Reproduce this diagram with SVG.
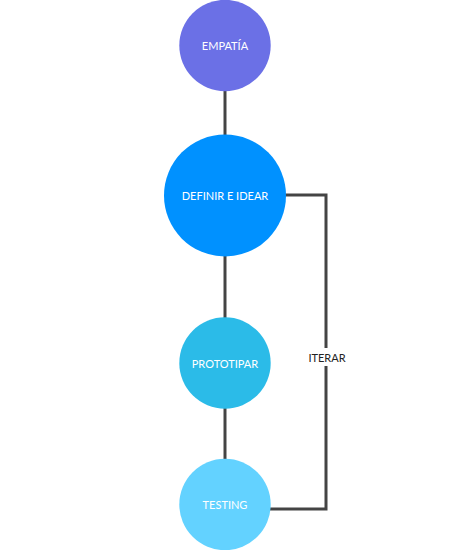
<svg xmlns="http://www.w3.org/2000/svg" width="450" height="550" viewBox="0 0 450 550">
<style>
.lbl{font-family:Lato,"Open Sans","DejaVu Sans",sans-serif;font-size:11px;fill:#ffffff;text-anchor:middle;dominant-baseline:central}
.conn{stroke:#444444;stroke-width:3;fill:none}
.itl{font-family:Lato,"Open Sans","DejaVu Sans",sans-serif;font-size:11px;fill:#222222;text-anchor:middle;dominant-baseline:central}
</style>
<rect width="450" height="550" fill="#ffffff"/>
<g id="connectors">
<line class="conn" x1="225" y1="80" x2="225" y2="150"/>
<line class="conn" x1="225" y1="240" x2="225" y2="330"/>
<line class="conn" x1="225" y1="400" x2="225" y2="470"/>
<polyline class="conn" points="280,195 326,195 326,509 265,509"/>
<rect x="306" y="348" width="42" height="18" fill="#ffffff"/>
<text class="itl" x="327" y="357">ITERAR</text>
</g>
<g id="empatia">
<circle cx="225" cy="45.5" r="45.7" fill="#6b70e6"/>
<text class="lbl" x="225" y="45.5">EMPATÍA</text>
</g>
<g id="definir">
<circle cx="225" cy="195.5" r="61" fill="#0091ff"/>
<text class="lbl" x="225" y="195">DEFINIR E IDEAR</text>
</g>
<g id="prototipar">
<circle cx="225" cy="363" r="45.7" fill="#2bbbe8"/>
<text class="lbl" x="225" y="363">PROTOTIPAR</text>
</g>
<g id="testing">
<circle cx="225" cy="504.5" r="45.7" fill="#63d2ff"/>
<text class="lbl" x="225" y="504">TESTING</text>
</g>
</svg>
